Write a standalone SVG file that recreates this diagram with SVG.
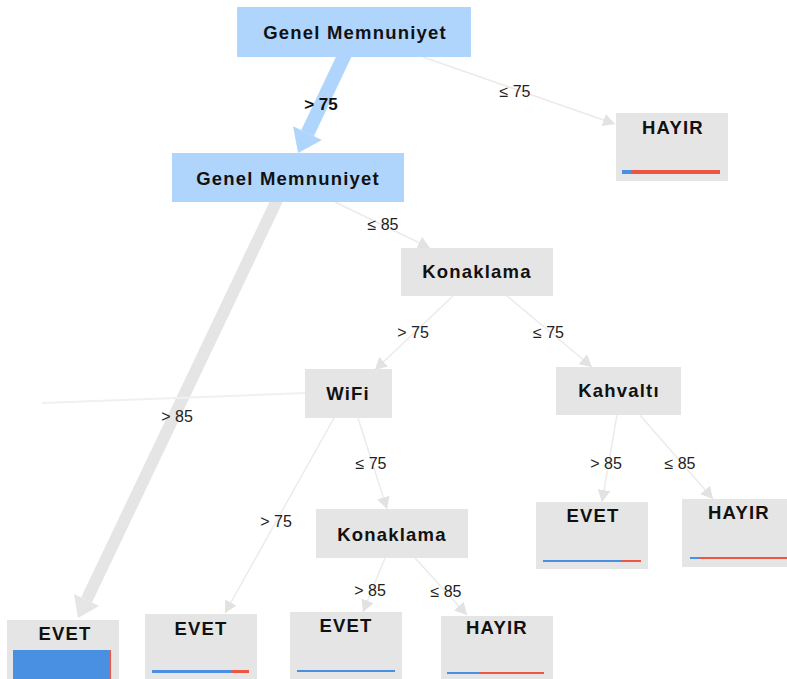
<svg xmlns="http://www.w3.org/2000/svg" width="787" height="679" viewBox="0 0 787 679">
  <style>
    .box { fill: #e5e5e5; }
    .box.hi { fill: #b0d5fc; }
    .lbl { font-family: "Liberation Sans", Arial, sans-serif; font-size: 18.5px; font-weight: bold; fill: #111; text-anchor: middle; letter-spacing: 1.2px; }
    .elbl { font-family: "Liberation Sans", Arial, sans-serif; font-size: 16px; fill: #222; text-anchor: middle; }
    .edge { stroke: #ebebeb; stroke-width: 1.5; fill: none; }
    .yes { fill: #4a90e2; }
    .no { fill: #ee5544; }
  </style>
  <defs>
    <marker id="tip" markerUnits="userSpaceOnUse" markerWidth="13" markerHeight="13" refX="12" refY="6.5" orient="auto">
      <path d="M0,0 L12,6.5 L0,13 z" fill="#e2e2e2"/>
    </marker>
    <marker id="tipBlue" markerUnits="userSpaceOnUse" markerWidth="24" markerHeight="34" refX="0" refY="17" orient="auto" overflow="visible">
      <path d="M0,1 L22,17 L0,33 z" fill="#b0d5fc"/>
    </marker>
    <marker id="tipGray" markerUnits="userSpaceOnUse" markerWidth="22" markerHeight="30" refX="0" refY="15" orient="auto" overflow="visible">
      <path d="M0,1 L20,15 L0,29 z" fill="#e5e5e5"/>
    </marker>
  </defs>

  <rect width="787" height="679" fill="#ffffff"/>

  <g id="connectors">
    <!-- thick branches carry most samples -->
    <line x1="346" y1="52" x2="307.5" y2="133.2" stroke="#b0d5fc" stroke-width="14" marker-end="url(#tipBlue)"/>
    <line x1="278" y1="198" x2="86.6" y2="599.9" stroke="#e5e5e5" stroke-width="12" marker-end="url(#tipGray)"/>
    <!-- thin branches -->
    <line class="edge" x1="423" y1="57" x2="615" y2="124" marker-end="url(#tip)"/>
    <line class="edge" x1="335" y1="202" x2="430" y2="248" marker-end="url(#tip)"/>
    <line class="edge" x1="453" y1="296" x2="375" y2="370" marker-end="url(#tip)"/>
    <line class="edge" x1="507" y1="296" x2="592" y2="367" marker-end="url(#tip)"/>
    <line class="edge" x1="334" y1="418" x2="225" y2="613" marker-end="url(#tip)"/>
    <line class="edge" x1="358" y1="418" x2="387" y2="509" marker-end="url(#tip)"/>
    <line class="edge" x1="617" y1="415" x2="602" y2="502" marker-end="url(#tip)"/>
    <line class="edge" x1="640" y1="415" x2="713" y2="499" marker-end="url(#tip)"/>
    <line class="edge" x1="385" y1="558" x2="363" y2="612" marker-end="url(#tip)"/>
    <line class="edge" x1="415" y1="558" x2="467" y2="615" marker-end="url(#tip)"/>
    <line x1="42" y1="403" x2="306" y2="393" stroke="#f0f0f0" stroke-width="2"/>

    <text x="321" y="110" class="elbl" style="font-size:17px;font-weight:bold;fill:#111">&gt; 75</text>
    <text x="515" y="97" class="elbl">≤ 75</text>
    <text x="383" y="230" class="elbl">≤ 85</text>
    <text x="413" y="338" class="elbl">&gt; 75</text>
    <text x="548.5" y="338" class="elbl">≤ 75</text>
    <text x="177" y="422" class="elbl">&gt; 85</text>
    <text x="371" y="469" class="elbl">≤ 75</text>
    <text x="606" y="469" class="elbl">&gt; 85</text>
    <text x="680" y="469" class="elbl">≤ 85</text>
    <text x="276" y="527" class="elbl">&gt; 75</text>
    <text x="370" y="596" class="elbl">&gt; 85</text>
    <text x="446" y="597" class="elbl">≤ 85</text>
  </g>

  <g id="root">
    <rect class="box hi" x="237" y="7" width="234" height="50"/>
    <text class="lbl" x="355" y="39">Genel Memnuniyet</text>
  </g>
  <g id="leaf-hayir-1">
    <rect class="box" x="616" y="113" width="112" height="68"/>
    <text class="lbl" x="673" y="134">HAYIR</text>
    <rect class="no" x="622" y="170" width="98" height="4"/>
    <rect class="yes" x="622" y="170" width="9" height="4"/>
  </g>
  <g id="genel-memnuniyet-2">
    <rect class="box hi" x="172" y="153" width="232" height="49"/>
    <text class="lbl" x="288" y="185">Genel Memnuniyet</text>
  </g>
  <g id="konaklama-1">
    <rect class="box" x="401" y="248" width="152" height="48"/>
    <text class="lbl" x="477" y="278">Konaklama</text>
  </g>
  <g id="wifi">
    <rect class="box" x="305" y="369" width="87" height="49"/>
    <text class="lbl" x="348" y="400">WiFi</text>
  </g>
  <g id="kahvalti">
    <rect class="box" x="556" y="367" width="125" height="48"/>
    <text class="lbl" x="619" y="397">Kahvaltı</text>
  </g>
  <g id="konaklama-2">
    <rect class="box" x="316" y="509" width="152" height="49"/>
    <text class="lbl" x="392" y="541">Konaklama</text>
  </g>
  <g id="leaf-evet-kahvalti">
    <rect class="box" x="536" y="502" width="112" height="67"/>
    <text class="lbl" x="593" y="522">EVET</text>
    <rect class="no" x="543" y="560" width="98" height="2"/>
    <rect class="yes" x="543" y="560" width="79" height="2"/>
  </g>
  <g id="leaf-hayir-kahvalti">
    <rect class="box" x="682" y="499" width="112" height="68"/>
    <text class="lbl" x="739" y="519">HAYIR</text>
    <rect class="no" x="690" y="557" width="105" height="2"/>
    <rect class="yes" x="690" y="557" width="10" height="2"/>
  </g>
  <g id="leaf-evet-main">
    <rect class="box" x="7" y="620" width="112" height="70"/>
    <text class="lbl" x="65" y="640">EVET</text>
    <rect class="no" x="13" y="650" width="98" height="30"/>
    <rect class="yes" x="13" y="650" width="97" height="30"/>
  </g>
  <g id="leaf-evet-wifi">
    <rect class="box" x="145" y="614" width="112" height="70"/>
    <text class="lbl" x="201" y="635">EVET</text>
    <rect class="no" x="152" y="670" width="97" height="3"/>
    <rect class="yes" x="152" y="670" width="80" height="3"/>
  </g>
  <g id="leaf-evet-konaklama">
    <rect class="box" x="290" y="612" width="112" height="70"/>
    <text class="lbl" x="346" y="632">EVET</text>
    <rect class="yes" x="297" y="670" width="98" height="2"/>
  </g>
  <g id="leaf-hayir-konaklama">
    <rect class="box" x="441" y="616" width="112" height="70"/>
    <text class="lbl" x="497" y="634">HAYIR</text>
    <rect class="no" x="447" y="672" width="97" height="2"/>
    <rect class="yes" x="447" y="672" width="32" height="2"/>
  </g>
</svg>
